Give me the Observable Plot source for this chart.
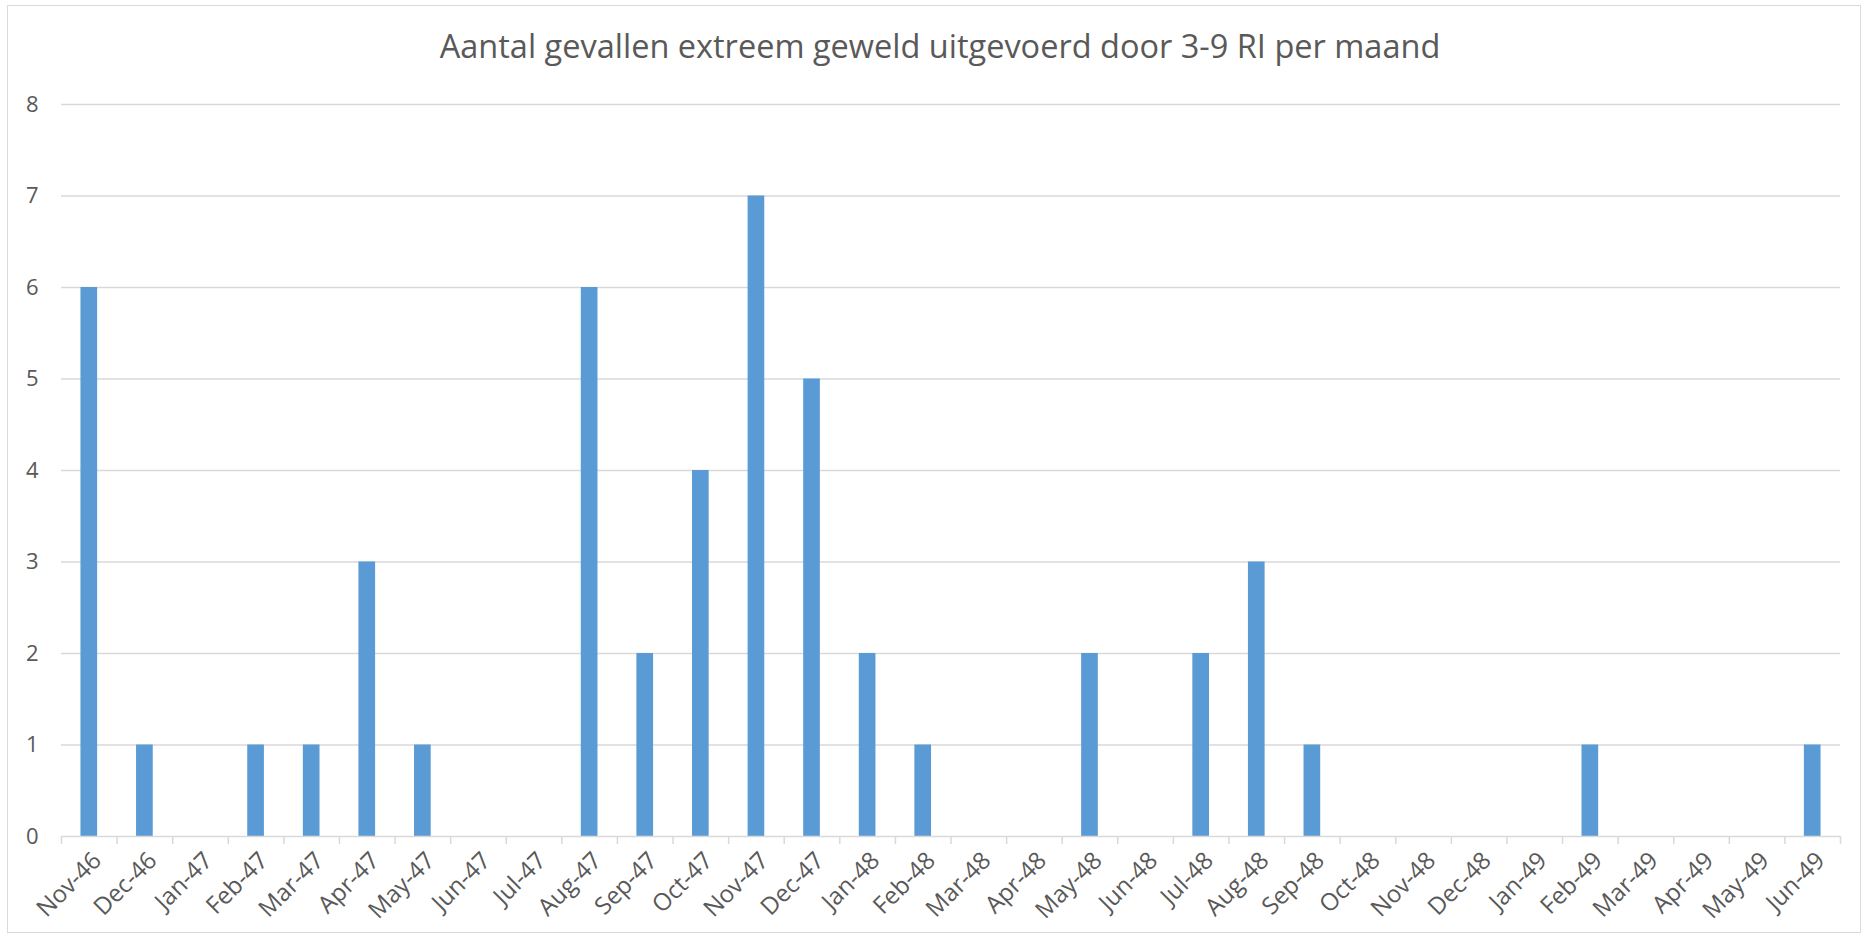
<!DOCTYPE html>
<html>
<head>
<meta charset="utf-8">
<script src="https://cdn.jsdelivr.net/npm/d3@7"></script>
<script src="https://cdn.jsdelivr.net/npm/@observablehq/plot@0.6"></script>
<style>
  html, body { margin: 0; padding: 0; background: #fff; width: 1868px; height: 937px; overflow: hidden; }
  #frame { position: absolute; left: 7px; top: 5px; width: 1854px; height: 928px; border: 1px solid #d9d9d9; box-sizing: border-box; }
  #title { position: absolute; left: 0; top: 24px; width: 1880px; text-align: center; font-family: "Open Sans", sans-serif; font-size: 32.5px; color: #595959; line-height: 44px; }
  #chart { position: absolute; left: 0; top: 0; }
</style>
</head>
<body>
<div id="frame"></div>
<div id="title">Aantal gevallen extreem geweld uitgevoerd door 3-9 RI per maand</div>
<div id="chart"></div>
<script>
const months = ["Nov-46","Dec-46","Jan-47","Feb-47","Mar-47","Apr-47","May-47","Jun-47","Jul-47","Aug-47","Sep-47","Oct-47","Nov-47","Dec-47","Jan-48","Feb-48","Mar-48","Apr-48","May-48","Jun-48","Jul-48","Aug-48","Sep-48","Oct-48","Nov-48","Dec-48","Jan-49","Feb-49","Mar-49","Apr-49","May-49","Jun-49"];
const counts = [6,1,0,1,1,3,1,0,0,6,2,4,7,5,2,1,0,0,2,0,2,3,1,0,0,0,0,1,0,0,0,1];
const yTicks = [0,1,2,3,4,5,6,7,8];

const data = months.map((m, i) => ({month: m, count: counts[i]}));

const W = 1868, H = 937;
const mL = 61, mR = 28, mT = 104, mB = 101;
const bw = (W - mL - mR) / months.length;

const chart = Plot.plot({
  width: W,
  height: H,
  marginLeft: mL,
  marginRight: mR,
  marginTop: mT,
  marginBottom: mB,
  style: {fontFamily: "'Open Sans', sans-serif", fontSize: "22px", color: "#595959", background: "transparent", maxWidth: "none"},
  x: {domain: months, paddingInner: 0.7, paddingOuter: 0.35, round: false},
  y: {domain: [0, 8]},
  marks: [
    Plot.ruleY(yTicks.filter(d => d > 0), {stroke: "#d9d9d9", strokeWidth: 1.5}),
    Plot.axisY({ticks: yTicks, tickSize: 0, tickPadding: 23, label: null, fill: "#595959", fontSize: 22}),
    Plot.barY(data, {x: "month", y: "count", fill: "#5b9bd5"}),
    Plot.ruleY([0], {stroke: "#d9d9d9", strokeWidth: 1.5}),
    Plot.axisX({ticks: months, tickSize: 8, tickFormat: () => "", dx: -bw / 2, stroke: "#d9d9d9", strokeWidth: 1.5, label: null}),
    Plot.axisX({ticks: months.slice(-1), tickSize: 8, tickFormat: () => "", dx: bw / 2, stroke: "#d9d9d9", strokeWidth: 1.5, label: null}),
    Plot.axisX({ticks: months, tickSize: 0, tickPadding: 20, tickRotate: -45, dx: 8, label: null, fill: "#595959", fontSize: 24})
  ]
});
document.getElementById("chart").appendChild(chart);
</script>
</body>
</html>
